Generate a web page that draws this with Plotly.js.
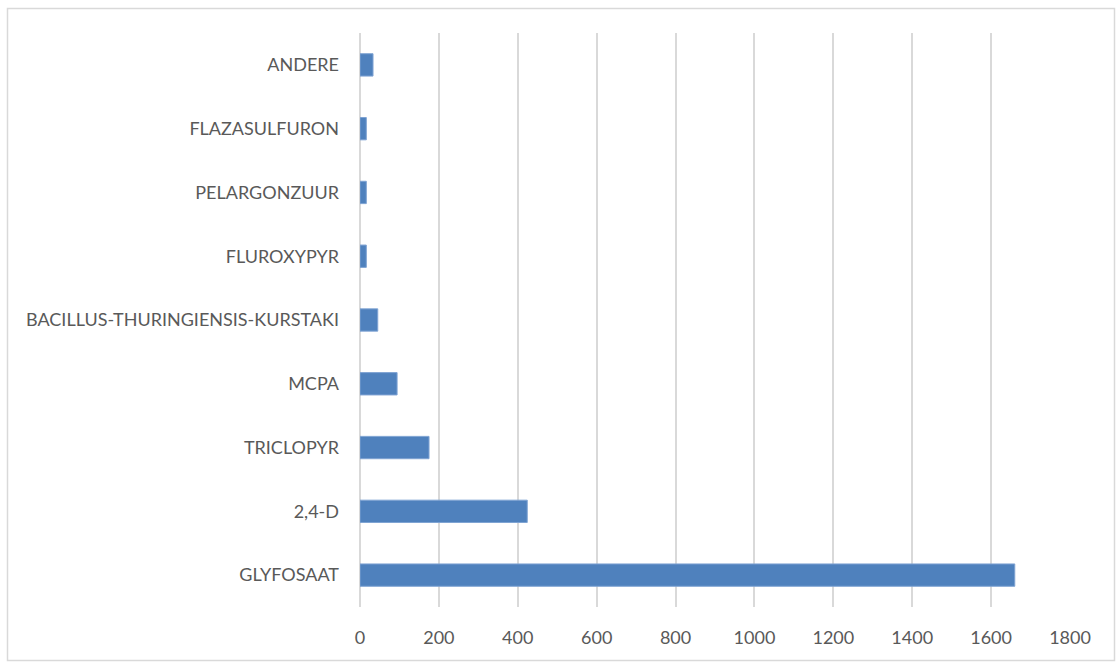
<!DOCTYPE html>
<html>
<head>
<meta charset="utf-8">
<script src="https://cdn.plot.ly/plotly-3.0.1.min.js"></script>
<style>
  html, body { margin: 0; padding: 0; background: #ffffff; }
  #chart { width: 1117px; height: 663px; }
</style>
</head>
<body>
<div id="chart"></div>
<script>
const categories = ["GLYFOSAAT", "2,4-D", "TRICLOPYR", "MCPA", "BACILLUS-THURINGIENSIS-KURSTAKI", "FLUROXYPYR", "PELARGONZUUR", "FLAZASULFURON", "ANDERE"];
const values = [1660, 424, 175, 94, 45, 16, 16, 16, 33];
const xTicks = [0, 200, 400, 600, 800, 1000, 1200, 1400, 1600, 1800];

const L = 360, R = 47, T = 33, B = 56, W = 1117, H = 663;
const pw = W - L - R, ph = H - T - B;
function px(x) { return (x - L) / pw; }
function py(y) { return (H - B - y) / ph; }

const trace = {
  type: "bar",
  orientation: "h",
  x: values,
  y: categories,
  marker: { color: "#4f81bd", line: { color: "#7fa3d3", width: 1 } },
  hoverinfo: "x+y"
};

const font = "Lato, 'Open Sans', sans-serif";
const layout = {
  width: W, height: H,
  margin: { l: L, r: R, t: T, b: B, pad: 0 },
  paper_bgcolor: "#ffffff",
  plot_bgcolor: "#ffffff",
  showlegend: false,
  bargap: 0.65,
  font: { family: font, color: "#595959", size: 18 },
  xaxis: {
    range: [0, 1800],
    tickvals: xTicks,
    ticktext: xTicks.map(String),
    showgrid: true,
    gridcolor: "#d9d9d9",
    gridwidth: 2,
    zeroline: true,
    zerolinecolor: "#d9d9d9",
    zerolinewidth: 2,
    showline: false,
    ticks: "",
    ticklabelstandoff: 18,
    tickfont: { family: font, size: 18, color: "#595959" },
    fixedrange: true
  },
  yaxis: {
    type: "category",
    categoryorder: "array",
    categoryarray: categories,
    showgrid: false,
    zeroline: false,
    showline: false,
    ticks: "",
    ticklabelstandoff: 20,
    tickfont: { family: font, size: 18, color: "#595959" },
    fixedrange: true
  },
  shapes: [{
    type: "rect", xref: "paper", yref: "paper",
    x0: px(7.5), x1: px(1114.5), y0: py(660.5), y1: py(8.5),
    line: { color: "#d9d9d9", width: 1.5 },
    fillcolor: "rgba(0,0,0,0)",
    layer: "below"
  }]
};

Plotly.newPlot("chart", [trace], layout, { displayModeBar: false, staticPlot: true });
</script>
</body>
</html>
